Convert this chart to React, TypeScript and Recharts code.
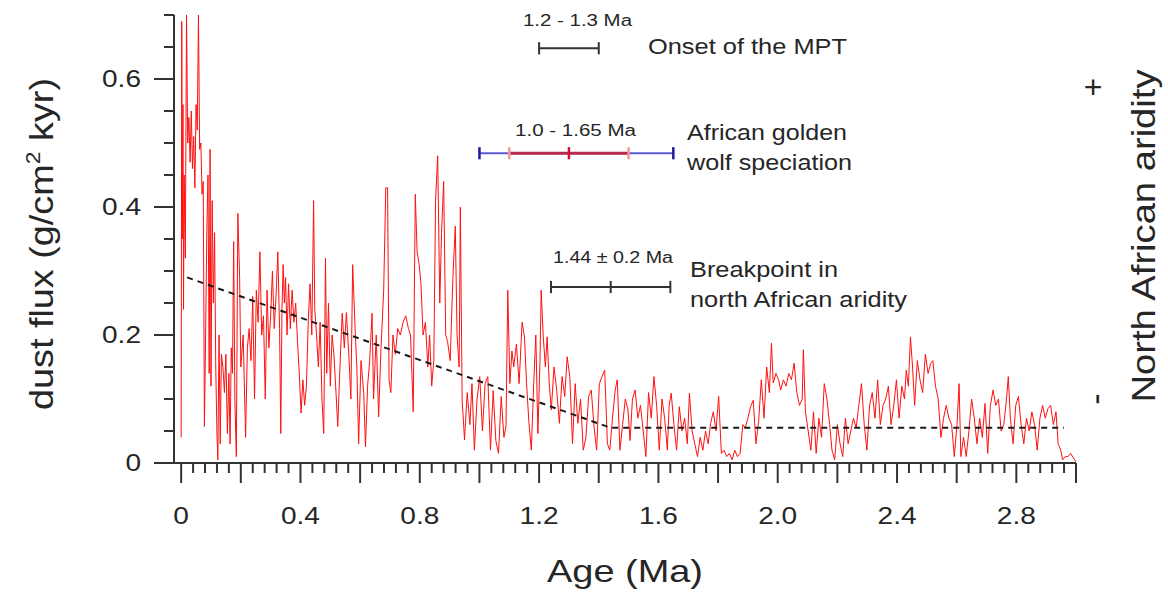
import React from "react";
import { LineChart, Line, XAxis, YAxis, ReferenceLine } from "recharts";

/* ---------------- Dust flux record (age in Ma, flux in g/cm2 kyr) ---------------- */

const DUST_0_05: [number, number][] = [
  [0.0, 0.04], [0.002, 0.69], [0.004, 0.35], [0.006, 0.56], [0.008, 0.24], [0.01, 0.45],
  [0.014, 0.32], [0.018, 0.7], [0.022, 0.5], [0.026, 0.54], [0.03, 0.47], [0.034, 0.55],
  [0.038, 0.46], [0.042, 0.51], [0.046, 0.43], [0.05, 0.56], [0.054, 0.52], [0.058, 0.7],
  [0.062, 0.49], [0.066, 0.5], [0.07, 0.42], [0.074, 0.44], [0.078, 0.057], [0.082, 0.2],
  [0.086, 0.36], [0.09, 0.45], [0.094, 0.14], [0.097, 0.49], [0.1, 0.12], [0.104, 0.41],
  [0.108, 0.25], [0.112, 0.36], [0.116, 0.15], [0.12, 0.046], [0.123, 0.005], [0.127, 0.2],
  [0.131, 0.03], [0.135, 0.17], [0.14, 0.15], [0.145, 0.11], [0.15, 0.17], [0.155, 0.046],
  [0.16, 0.14], [0.164, 0.03], [0.168, 0.18], [0.172, 0.14], [0.176, 0.346], [0.18, 0.1],
  [0.185, 0.01], [0.19, 0.39], [0.196, 0.29], [0.2, 0.15], [0.208, 0.2], [0.216, 0.04],
  [0.222, 0.18], [0.228, 0.21], [0.234, 0.16], [0.24, 0.26], [0.246, 0.1], [0.252, 0.27],
  [0.258, 0.22], [0.264, 0.33], [0.27, 0.2], [0.276, 0.23], [0.282, 0.1], [0.288, 0.27],
  [0.294, 0.18], [0.3, 0.23], [0.306, 0.3], [0.312, 0.21], [0.318, 0.26], [0.324, 0.33],
  [0.33, 0.21], [0.334, 0.046], [0.338, 0.24], [0.342, 0.31], [0.346, 0.25], [0.35, 0.29],
  [0.355, 0.2], [0.36, 0.28], [0.366, 0.21], [0.372, 0.27], [0.378, 0.22], [0.384, 0.25],
  [0.39, 0.19], [0.396, 0.14], [0.402, 0.078], [0.408, 0.13], [0.414, 0.09], [0.42, 0.12],
  [0.426, 0.22], [0.432, 0.28], [0.438, 0.2], [0.444, 0.41], [0.448, 0.24], [0.454, 0.2],
  [0.46, 0.15], [0.466, 0.22], [0.472, 0.1], [0.478, 0.046], [0.484, 0.32], [0.488, 0.14],
  [0.494, 0.25], [0.5, 0.12],
];

const DUST_05_1: [number, number][] = [
  [0.506, 0.2], [0.512, 0.17], [0.518, 0.12], [0.525, 0.057], [0.534, 0.17], [0.54, 0.234],
  [0.547, 0.18], [0.554, 0.235], [0.562, 0.17], [0.569, 0.1], [0.575, 0.31], [0.584, 0.2],
  [0.589, 0.15], [0.595, 0.03], [0.603, 0.16], [0.612, 0.11], [0.618, 0.025], [0.625, 0.12],
  [0.632, 0.16], [0.64, 0.234], [0.645, 0.1], [0.654, 0.2], [0.662, 0.072], [0.67, 0.18],
  [0.679, 0.27], [0.686, 0.43], [0.692, 0.43], [0.697, 0.13], [0.703, 0.11], [0.71, 0.2],
  [0.718, 0.17], [0.726, 0.21], [0.735, 0.2], [0.744, 0.22], [0.753, 0.23], [0.762, 0.21],
  [0.769, 0.2], [0.778, 0.08], [0.785, 0.42], [0.791, 0.33], [0.798, 0.31], [0.804, 0.28],
  [0.811, 0.2], [0.819, 0.22], [0.827, 0.15], [0.833, 0.2], [0.84, 0.12], [0.847, 0.16],
  [0.853, 0.41], [0.86, 0.48], [0.867, 0.25], [0.873, 0.36], [0.88, 0.44], [0.887, 0.2],
  [0.893, 0.19], [0.902, 0.16], [0.911, 0.29], [0.919, 0.37], [0.925, 0.2], [0.932, 0.15],
  [0.936, 0.4], [0.942, 0.1], [0.95, 0.036], [0.959, 0.11], [0.968, 0.06], [0.975, 0.124],
  [0.983, 0.02], [0.992, 0.1],
];

const DUST_1_15: [number, number][] = [
  [1.001, 0.135], [1.01, 0.05], [1.019, 0.124], [1.028, 0.135], [1.037, 0.02], [1.046, 0.113],
  [1.055, 0.035], [1.064, 0.015], [1.073, 0.104], [1.082, 0.04], [1.089, 0.057], [1.095, 0.27],
  [1.102, 0.124], [1.109, 0.175], [1.115, 0.15], [1.124, 0.186], [1.133, 0.124], [1.143, 0.22],
  [1.151, 0.197], [1.158, 0.124], [1.166, 0.062], [1.174, 0.02], [1.182, 0.124], [1.189, 0.2],
  [1.196, 0.046], [1.203, 0.16], [1.207, 0.27], [1.214, 0.197], [1.221, 0.15], [1.227, 0.197],
  [1.234, 0.124], [1.241, 0.083], [1.25, 0.15], [1.259, 0.114], [1.268, 0.062], [1.277, 0.135],
  [1.286, 0.104], [1.294, 0.166], [1.303, 0.135], [1.312, 0.03], [1.321, 0.124], [1.33, 0.062],
  [1.339, 0.1], [1.348, 0.02], [1.357, 0.04], [1.366, 0.104], [1.375, 0.114], [1.384, 0.057],
  [1.393, 0.02], [1.402, 0.124], [1.411, 0.135], [1.42, 0.145], [1.429, 0.03], [1.437, 0.02],
  [1.446, 0.07], [1.455, 0.114], [1.462, 0.13], [1.471, 0.02], [1.48, 0.06], [1.489, 0.1],
  [1.498, 0.083],
];

const DUST_15_2: [number, number][] = [
  [1.505, 0.035], [1.513, 0.1], [1.522, 0.114], [1.531, 0.07], [1.54, 0.09], [1.549, 0.05],
  [1.558, 0.01], [1.567, 0.11], [1.576, 0.07], [1.585, 0.135], [1.594, 0.09], [1.603, 0.02],
  [1.612, 0.1], [1.621, 0.07], [1.63, 0.02], [1.636, 0.09], [1.643, 0.109], [1.652, 0.06],
  [1.661, 0.02], [1.67, 0.088], [1.679, 0.05], [1.688, 0.07], [1.697, 0.03], [1.704, 0.109],
  [1.713, 0.05], [1.722, 0.03], [1.731, 0.01], [1.74, 0.04], [1.749, 0.02], [1.758, 0.05],
  [1.767, 0.03], [1.775, 0.062], [1.784, 0.08], [1.793, 0.05], [1.802, 0.104], [1.811, 0.015],
  [1.82, 0.02], [1.829, 0.01], [1.838, 0.015], [1.847, 0.005], [1.856, 0.02], [1.865, 0.01],
  [1.874, 0.015], [1.883, 0.06], [1.891, 0.055], [1.9, 0.07], [1.909, 0.088], [1.918, 0.098],
  [1.927, 0.03], [1.936, 0.065], [1.945, 0.13], [1.954, 0.07], [1.963, 0.15], [1.972, 0.11],
  [1.979, 0.187], [1.985, 0.125], [1.994, 0.14],
];

const DUST_2_25: [number, number][] = [
  [2.003, 0.13], [2.01, 0.114], [2.019, 0.13], [2.028, 0.12], [2.037, 0.14], [2.046, 0.13],
  [2.055, 0.156], [2.064, 0.11], [2.073, 0.09], [2.082, 0.1], [2.086, 0.177], [2.093, 0.08],
  [2.102, 0.05], [2.111, 0.02], [2.12, 0.08], [2.129, 0.015], [2.138, 0.07], [2.147, 0.04],
  [2.156, 0.124], [2.165, 0.1], [2.174, 0.06], [2.182, 0.02], [2.191, 0.005], [2.2, 0.06],
  [2.209, 0.03], [2.218, 0.01], [2.227, 0.07], [2.236, 0.03], [2.245, 0.05], [2.254, 0.07],
  [2.263, 0.055], [2.272, 0.09], [2.281, 0.124], [2.29, 0.06], [2.299, 0.02], [2.308, 0.09],
  [2.317, 0.11], [2.326, 0.07], [2.335, 0.13], [2.344, 0.06], [2.353, 0.09], [2.362, 0.1],
  [2.371, 0.12], [2.38, 0.06], [2.389, 0.09], [2.398, 0.13], [2.407, 0.07], [2.416, 0.12],
  [2.425, 0.1], [2.431, 0.145], [2.438, 0.12], [2.445, 0.197], [2.452, 0.15], [2.459, 0.09],
  [2.468, 0.16], [2.477, 0.13], [2.486, 0.11], [2.495, 0.17],
];

const DUST_25_3: [number, number][] = [
  [2.504, 0.14], [2.513, 0.156], [2.52, 0.16], [2.529, 0.12], [2.538, 0.1], [2.547, 0.04],
  [2.556, 0.07], [2.565, 0.09], [2.574, 0.07], [2.583, 0.06], [2.592, 0.01], [2.601, 0.06],
  [2.608, 0.124], [2.614, 0.01], [2.623, 0.04], [2.632, 0.01], [2.641, 0.05], [2.65, 0.1],
  [2.659, 0.07], [2.668, 0.03], [2.677, 0.07], [2.686, 0.04], [2.695, 0.093], [2.704, 0.015],
  [2.713, 0.09], [2.722, 0.114], [2.731, 0.09], [2.74, 0.1], [2.749, 0.05], [2.758, 0.06],
  [2.767, 0.1], [2.773, 0.135], [2.78, 0.07], [2.789, 0.03], [2.798, 0.09], [2.807, 0.104],
  [2.816, 0.06], [2.825, 0.03], [2.834, 0.07], [2.843, 0.05], [2.852, 0.08], [2.861, 0.06],
  [2.87, 0.02], [2.879, 0.07], [2.888, 0.09], [2.897, 0.07], [2.906, 0.085], [2.915, 0.09],
  [2.924, 0.06], [2.933, 0.08], [2.94, 0.03], [2.949, 0.02], [2.955, 0.005], [2.964, 0.01],
  [2.973, 0.01], [2.982, 0.015], [2.991, 0.008], [3.0, 0.002],
];

// piecewise linear fit with breakpoint
const TREND_AGE = [0.02, 1.44, 2.96];
const TREND_FLUX = [0.29, 0.055, 0.055];

// annotation bars (Ma) and their heights on the flux scale
const MPT_RANGE = [1.2, 1.4];
const MPT_Y = 0.648;
const WOLF_RANGE = [1.0, 1.65];
const WOLF_CORE = [1.1, 1.5];
const WOLF_MID = 1.3;
const WOLF_Y = 0.484;
const BREAK_RANGE = [1.24, 1.44, 1.64];
const BREAK_Y = 0.275;

// axes
const X_LABEL_AT = [0, 0.4, 0.8, 1.2, 1.6, 2.0, 2.4, 2.8];
const X_LABELS = ["0", "0.4", "0.8", "1.2", "1.6", "2.0", "2.4", "2.8"];
const Y_LABEL_AT = [0, 0.2, 0.4, 0.6];
const Y_LABELS = ["0", "0.2", "0.4", "0.6"];
const X_TICKS = Array.from({ length: 76 }, (_, i) => Math.round(i * 4) / 100);
const Y_TICKS = Array.from({ length: 15 }, (_, i) => Math.round(i * 5) / 100);

const DUST = [...DUST_0_05, ...DUST_05_1, ...DUST_1_15, ...DUST_15_2, ...DUST_2_25, ...DUST_25_3].map(
  ([age, flux]) => ({ age, flux })
);
const TREND = TREND_AGE.map((age, i) => ({ age, trend: TREND_FLUX[i] }));

const W = 1168;
const H = 596;
const FONT = "'Liberation Sans', Arial, Helvetica, sans-serif";
const INK = "#262626";
const AXIS = "#333333";
const CAP = 0.0095;

function XTick({ x, y, payload }: any) {
  const v = payload.value;
  const major = Math.round(v / 0.04) % 5 === 0;
  const li = X_LABEL_AT.findIndex((t) => Math.abs(t - v) < 1e-6);
  return (
    <g>
      <line x1={x} x2={x} y1={y} y2={y + (major ? 20 : 10)} stroke={AXIS} strokeWidth={2} />
      {li >= 0 && (
        <text
          transform={`translate(${x},${y + 61}) scale(1.22,1)`}
          textAnchor="middle"
          fontSize={23}
          fontFamily={FONT}
          fill={INK}
        >
          {X_LABELS[li]}
        </text>
      )}
    </g>
  );
}

function YTick({ x, y, payload }: any) {
  const v = payload.value;
  const major = Math.round(v / 0.05) % 4 === 0;
  const li = Y_LABEL_AT.findIndex((t) => Math.abs(t - v) < 1e-6);
  return (
    <g>
      <line x1={x} x2={x - (major ? 20 : 10)} y1={y} y2={y} stroke={AXIS} strokeWidth={2} />
      {li >= 0 && (
        <text
          transform={`translate(${x - 33},${y + 8}) scale(1.22,1)`}
          textAnchor="end"
          fontSize={23}
          fontFamily={FONT}
          fill={INK}
        >
          {Y_LABELS[li]}
        </text>
      )}
    </g>
  );
}

// segment in data units
function seg(key: string, x1: number, x2: number, y1: number, y2: number, color: string, w: number) {
  return (
    <ReferenceLine
      key={key}
      segment={[{ x: x1, y: y1 }, { x: x2, y: y2 }]}
      stroke={color}
      strokeWidth={w}
      ifOverflow="visible"
    />
  );
}

function cap(key: string, x: number, y: number, color: string, w: number) {
  return seg(key, x, x, y - CAP, y + CAP, color, w);
}

export default function App() {
  const t = { fontFamily: FONT, fill: INK };
  return (
    <div style={{ position: "absolute", left: 0, top: 0, width: W, height: H, background: "#fff" }}>
      <LineChart width={W} height={H} margin={{ top: 15, right: 92, bottom: 73, left: 114 }}>
        <XAxis
          dataKey="age"
          type="number"
          domain={[-0.024, 3.0]}
          allowDataOverflow
          ticks={X_TICKS}
          interval={0}
          height={60}
          tickSize={0}
          tickMargin={0}
          tickLine={false}
          axisLine={{ stroke: AXIS, strokeWidth: 2 }}
          tick={(p: any) => <XTick {...p} />}
        />
        <YAxis
          type="number"
          domain={[0, 0.7]}
          allowDataOverflow
          ticks={Y_TICKS}
          interval={0}
          width={60}
          tickSize={0}
          tickMargin={0}
          tickLine={false}
          axisLine={{ stroke: AXIS, strokeWidth: 2 }}
          tick={(p: any) => <YTick {...p} />}
        />

        {/* Onset of the MPT */}
        {seg("mpt", MPT_RANGE[0], MPT_RANGE[1], MPT_Y, MPT_Y, AXIS, 2)}
        {MPT_RANGE.map((v, i) => cap(`mptc${i}`, v, MPT_Y, AXIS, 2))}

        {/* African golden wolf speciation */}
        {seg("wolf", WOLF_RANGE[0], WOLF_RANGE[1], WOLF_Y, WOLF_Y, "#5b5bd0", 2)}
        {seg("wolfcore", WOLF_CORE[0], WOLF_CORE[1], WOLF_Y, WOLF_Y, "#b8294e", 3)}
        {WOLF_RANGE.map((v, i) => cap(`wolfc${i}`, v, WOLF_Y, "#1c1c9c", 2.5))}
        {WOLF_CORE.map((v, i) => cap(`wolfcc${i}`, v, WOLF_Y, "#f29a9a", 2.5))}
        {cap("wolfmid", WOLF_MID, WOLF_Y, "#cc1038", 2.5)}

        {/* Breakpoint in north African aridity */}
        {seg("brk", BREAK_RANGE[0], BREAK_RANGE[2], BREAK_Y, BREAK_Y, AXIS, 2)}
        {BREAK_RANGE.map((v, i) => cap(`brkc${i}`, v, BREAK_Y, AXIS, 2))}

        <Line
          data={DUST}
          dataKey="flux"
          type="linear"
          stroke="#ff1010"
          strokeWidth={1}
          dot={false}
          isAnimationActive={false}
        />
        <Line
          data={TREND}
          dataKey="trend"
          type="linear"
          stroke="#1a1a1a"
          strokeWidth={2}
          strokeDasharray="6 5"
          dot={false}
          isAnimationActive={false}
        />
      </LineChart>

      <svg width={W} height={H} style={{ position: "absolute", left: 0, top: 0, pointerEvents: "none" }}>
        <text x={53} y={244} transform="rotate(-90 53 244)" textAnchor="middle" fontSize={33} textLength={332} lengthAdjust="spacingAndGlyphs" {...t}>
          dust flux (g/cm
          <tspan dy={-13} fontSize={20}>2</tspan>
          <tspan dy={13}> kyr)</tspan>
        </text>
        <text x={625} y={582} textAnchor="middle" fontSize={32} textLength={156} lengthAdjust="spacingAndGlyphs" {...t}>
          Age (Ma)
        </text>
        <text x={1155} y={236} transform="rotate(-90 1155 236)" textAnchor="middle" fontSize={34} textLength={333} lengthAdjust="spacingAndGlyphs" {...t}>
          North African aridity
        </text>
        <text x={1093} y={87} textAnchor="middle" dominantBaseline="central" fontSize={32} {...t}>+</text>
        <text x={1095} y={399} transform="rotate(-90 1095 399)" textAnchor="middle" dominantBaseline="central" fontSize={34} {...t}>-</text>

        <text x={523} y={26} fontSize={16} textLength={109} lengthAdjust="spacingAndGlyphs" {...t}>1.2 - 1.3 Ma</text>
        <text x={648} y={54} fontSize={22} textLength={199} lengthAdjust="spacingAndGlyphs" {...t}>Onset of the MPT</text>
        <text x={515} y={136} fontSize={16} textLength={121} lengthAdjust="spacingAndGlyphs" {...t}>1.0 - 1.65 Ma</text>
        <text x={687} y={140} fontSize={22} textLength={160} lengthAdjust="spacingAndGlyphs" {...t}>African golden</text>
        <text x={687} y={170} fontSize={22} textLength={165} lengthAdjust="spacingAndGlyphs" {...t}>wolf speciation</text>
        <text x={553} y={263} fontSize={16} textLength={120} lengthAdjust="spacingAndGlyphs" {...t}>1.44 ± 0.2 Ma</text>
        <text x={690} y={277} fontSize={22} textLength={148} lengthAdjust="spacingAndGlyphs" {...t}>Breakpoint in</text>
        <text x={690} y={307} fontSize={22} textLength={217} lengthAdjust="spacingAndGlyphs" {...t}>north African aridity</text>
      </svg>
    </div>
  );
}
